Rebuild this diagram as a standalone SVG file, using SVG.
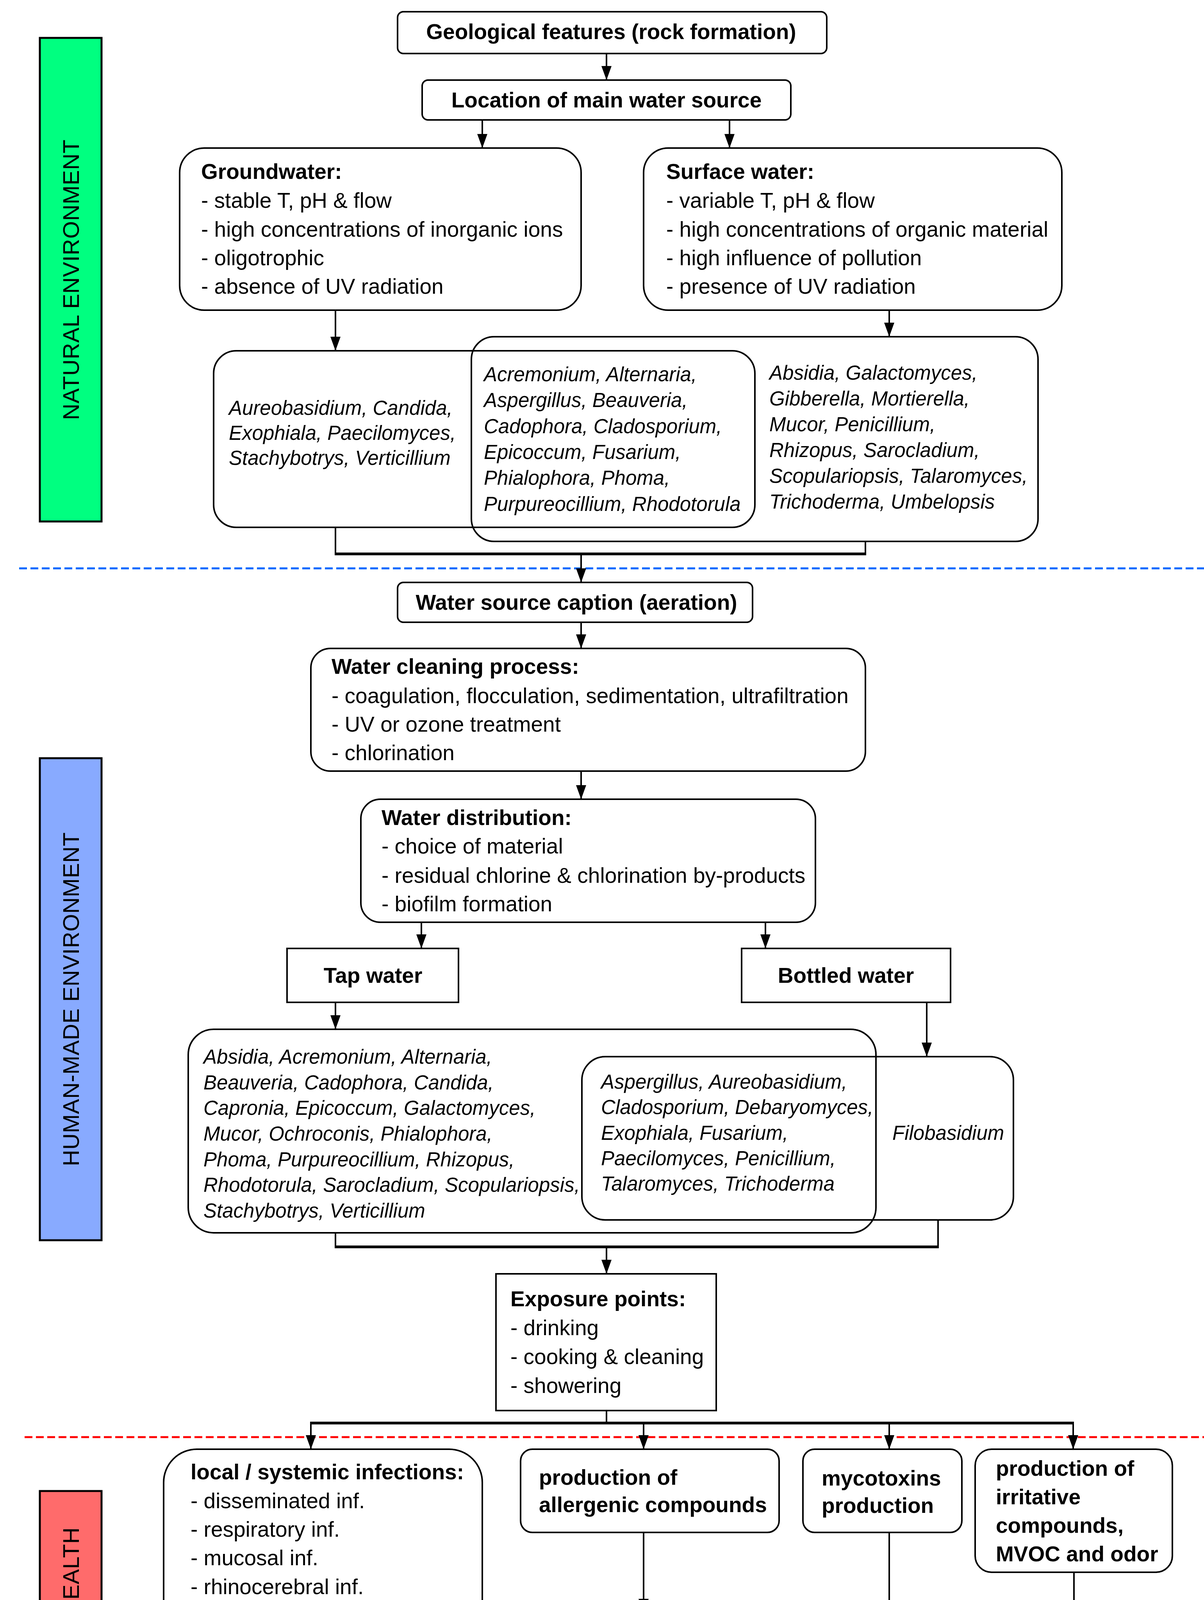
<svg xmlns="http://www.w3.org/2000/svg" width="3083" height="4795" viewBox="0 0 3083 4795">
<defs>
<marker id="ah" markerUnits="userSpaceOnUse" markerWidth="36" markerHeight="26" viewBox="0 0 36 26" refX="36" refY="13" orient="auto"><path d="M0,0 L36,13 L0,26 Z" fill="#000"/></marker>
</defs>
<style>
.box{fill:none;stroke:#000;stroke-width:4}
text{font-family:"Liberation Sans",Arial,Helvetica,sans-serif;fill:#000}
.h{font-size:55px;font-weight:bold}
.t{font-size:55px}
.g{font-size:51px;font-style:italic}
.c{text-anchor:middle}
.ln{fill:none;stroke:#000;stroke-width:4}
.ar{fill:none;stroke:#000;stroke-width:4;marker-end:url(#ah)}
.thick{fill:none;stroke:#000;stroke-width:7}
.bar{stroke:#000;stroke-width:5}
.bt{font-size:58px;letter-spacing:0.5px;text-anchor:middle}
</style>
<rect width="3083" height="4795" fill="#fff"/>

<g id="side-bars">
<g id="natural-environment"><rect class="bar" x="102" y="97" width="158" height="1238" fill="#00FF80"/><text class="bt" transform="translate(202,716) rotate(-90)">NATURAL ENVIRONMENT</text></g>
<g id="human-made-environment"><rect class="bar" x="102" y="1941" width="158" height="1234" fill="#88AAFF"/><text class="bt" transform="translate(202,2558) rotate(-90)">HUMAN-MADE ENVIRONMENT</text></g>
<g id="effect-on-health"><rect class="bar" x="102" y="3817" width="158" height="763" fill="#FF6B6B"/><text class="bt" transform="translate(202,4198) rotate(-90)">EFFECT ON HEALTH</text></g>
</g>

<g id="separators">
<line x1="49" y1="1455" x2="3083" y2="1455" stroke="#0066FF" stroke-width="5" stroke-dasharray="20 9"/>
<line x1="63" y1="3679" x2="3083" y2="3679" stroke="#FF0000" stroke-width="5" stroke-dasharray="20 9"/>
</g>

<g id="geological">
<rect class="box" x="1018" y="30" width="1099" height="107" rx="15"/>
<text class="h c" x="1565" y="100">Geological features (rock formation)</text>
</g>
<g id="location">
<rect class="box" x="1081" y="205" width="944" height="102" rx="15"/>
<text class="h c" x="1553" y="275">Location of main water source</text>
</g>
<g id="groundwater">
<rect class="box" x="460" y="379" width="1028" height="415" rx="63"/>
<text class="h" x="515" y="458">Groundwater:</text>
<text class="t" x="515" y="532">- stable T, pH &amp; flow</text>
<text class="t" x="515" y="606">- high concentrations of inorganic ions</text>
<text class="t" x="515" y="679">- oligotrophic</text>
<text class="t" x="515" y="752">- absence of UV radiation</text>
</g>
<g id="surface-water">
<rect class="box" x="1648" y="379" width="1071" height="415" rx="63"/>
<text class="h" x="1706" y="458">Surface water:</text>
<text class="t" x="1706" y="532">- variable  T, pH &amp; flow</text>
<text class="t" x="1706" y="606">- high concentrations of organic material</text>
<text class="t" x="1706" y="679">- high influence of pollution</text>
<text class="t" x="1706" y="752">- presence of UV radiation</text>
</g>
<g id="groundwater-genera">
<rect class="box" x="547" y="898" width="1386" height="452" rx="58"/>
<text class="g" x="586" y="1062">Aureobasidium, Candida,</text>
<text class="g" x="586" y="1126">Exophiala, Paecilomyces,</text>
<text class="g" x="586" y="1190">Stachybotrys, Verticillium</text>
</g>
<g id="surface-genera">
<rect class="box" x="1207" y="862" width="1451" height="524" rx="58"/>
<text class="g" x="1970" y="972">Absidia, Galactomyces,</text>
<text class="g" x="1970" y="1038">Gibberella, Mortierella,</text>
<text class="g" x="1970" y="1104">Mucor, Penicillium,</text>
<text class="g" x="1970" y="1170">Rhizopus, Sarocladium,</text>
<text class="g" x="1970" y="1236">Scopulariopsis, Talaromyces,</text>
<text class="g" x="1970" y="1302">Trichoderma, Umbelopsis</text>
</g>
<g id="shared-natural-genera">
<text class="g" x="1239" y="976">Acremonium, Alternaria,</text>
<text class="g" x="1239" y="1042">Aspergillus, Beauveria,</text>
<text class="g" x="1239" y="1109">Cadophora, Cladosporium,</text>
<text class="g" x="1239" y="1175">Epicoccum, Fusarium,</text>
<text class="g" x="1239" y="1241">Phialophora, Phoma,</text>
<text class="g" x="1239" y="1308">Purpureocillium, Rhodotorula</text>
</g>

<g id="water-source-caption">
<rect class="box" x="1018" y="1491" width="909" height="102" rx="15"/>
<text class="h c" x="1476" y="1561">Water source caption (aeration)</text>
</g>
<g id="water-cleaning">
<rect class="box" x="796" y="1660" width="1420" height="314" rx="50"/>
<text class="h" x="849" y="1725">Water cleaning process:</text>
<text class="t" x="849" y="1800">- coagulation, flocculation, sedimentation, ultrafiltration</text>
<text class="t" x="849" y="1873">- UV or ozone treatment</text>
<text class="t" x="849" y="1946">- chlorination</text>
</g>
<g id="water-distribution">
<rect class="box" x="924" y="2046" width="1164" height="315" rx="50"/>
<text class="h" x="977" y="2112">Water distribution:</text>
<text class="t" x="977" y="2185">- choice of material</text>
<text class="t" x="977" y="2260">- residual chlorine &amp; chlorination  by-products</text>
<text class="t" x="977" y="2333">- biofilm formation</text>
</g>
<g id="tap-water">
<rect class="box" x="735" y="2428" width="439" height="138"/>
<text class="h c" x="955" y="2516">Tap water</text>
</g>
<g id="bottled-water">
<rect class="box" x="1899" y="2428" width="535" height="138"/>
<text class="h c" x="2166" y="2516">Bottled water</text>
</g>
<g id="tap-genera">
<rect class="box" x="482" y="2635" width="1761" height="521" rx="65"/>
<text class="g" x="521" y="2723">Absidia, Acremonium, Alternaria,</text>
<text class="g" x="521" y="2789">Beauveria, Cadophora, Candida,</text>
<text class="g" x="521" y="2854">Capronia, Epicoccum, Galactomyces,</text>
<text class="g" x="521" y="2920">Mucor, Ochroconis, Phialophora,</text>
<text class="g" x="521" y="2986">Phoma, Purpureocillium, Rhizopus,</text>
<text class="g" x="521" y="3051">Rhodotorula, Sarocladium, Scopulariopsis,</text>
<text class="g" x="521" y="3117">Stachybotrys, Verticillium</text>
</g>
<g id="bottled-genera">
<rect class="box" x="1490" y="2705" width="1105" height="418" rx="60"/>
<text class="g" x="2285" y="2918">Filobasidium</text>
</g>
<g id="shared-water-genera">
<text class="g" x="1539" y="2787">Aspergillus, Aureobasidium,</text>
<text class="g" x="1539" y="2852">Cladosporium, Debaryomyces,</text>
<text class="g" x="1539" y="2918">Exophiala, Fusarium,</text>
<text class="g" x="1539" y="2983">Paecilomyces, Penicillium,</text>
<text class="g" x="1539" y="3048">Talaromyces, Trichoderma</text>
</g>
<g id="exposure-points">
<rect class="box" x="1270" y="3261" width="564" height="350"/>
<text class="h" x="1307" y="3344">Exposure points:</text>
<text class="t" x="1307" y="3418">- drinking</text>
<text class="t" x="1307" y="3492">- cooking &amp; cleaning</text>
<text class="t" x="1307" y="3566">- showering</text>
</g>

<g id="infections">
<rect class="box" x="419" y="3710" width="816" height="700" rx="85"/>
<text class="h" x="488" y="3787">local / systemic infections:</text>
<text class="t" x="488" y="3861">- disseminated inf.</text>
<text class="t" x="488" y="3934">- respiratory inf.</text>
<text class="t" x="488" y="4007">- mucosal inf.</text>
<text class="t" x="488" y="4081">- rhinocerebral  inf.</text>
<text class="t" x="488" y="4154">- subcutaneous  inf.</text>
<text class="t" x="488" y="4227">- skin &amp; nail inf.</text>
<text class="t" x="488" y="4301">- ear inf.</text>
<text class="t" x="488" y="4374">- keratitis</text>
</g>
<g id="infection-genera">
<rect class="box" x="295" y="4479" width="1007" height="275" rx="40"/>
<text class="g" x="344" y="4566">Aspergillus, Candida, Exophiala,</text>
<text class="g" x="344" y="4631">Fusarium, Paecilomyces, Purpureocillium</text>
<text class="g" x="344" y="4696">Sarocladium, Mucor, Rhizopus</text>
</g>
<g id="allergenic">
<rect class="box" x="1333" y="3710" width="662" height="213" rx="30"/>
<text class="h" x="1380" y="3801">production of</text>
<text class="h" x="1380" y="3871">allergenic compounds</text>
</g>
<g id="allergenic-genera">
<rect class="box" x="1333" y="4129" width="723" height="625" rx="85"/>
<text class="g" x="1396" y="4227">Aspergillus, Alternaria,</text>
<text class="g" x="1396" y="4294">Aureobasidium, Beauveria,</text>
<text class="g" x="1396" y="4356">Botrytis, Candida,</text>
<text class="g" x="1396" y="4423">Chaetomium,Cladosporium,</text>
<text class="g" x="1396" y="4489">Epicoccum, Fusarium,</text>
<text class="g" x="1396" y="4555">Paecilomyces, Penicillium,</text>
<text class="g" x="1396" y="4622">Stachybotrys, Trichoderma,</text>
<text class="g" x="1396" y="4685">Mucor, Rhizopus</text>
</g>
<g id="mycotoxins">
<rect class="box" x="2056" y="3710" width="407" height="213" rx="30"/>
<text class="h" x="2104" y="3803">mycotoxins</text>
<text class="h" x="2104" y="3873">production</text>
</g>
<g id="mycotoxin-genera">
<rect class="box" x="2088" y="4301" width="409" height="453" rx="50"/>
<text class="g" x="2147" y="4381">Alternaria,</text>
<text class="g" x="2147" y="4447">Chaetomium,</text>
<text class="g" x="2147" y="4513">Fusarium,</text>
<text class="g" x="2147" y="4579">Penicillium,</text>
<text class="g" x="2147" y="4645">Stachybotrys,</text>
<text class="g" x="2147" y="4711">Trichoderma</text>
</g>
<g id="irritative">
<rect class="box" x="2497" y="3710" width="505" height="315" rx="42"/>
<text class="h" x="2550" y="3778">production of</text>
<text class="h" x="2550" y="3851">irritative</text>
<text class="h" x="2550" y="3924">compounds,</text>
<text class="h" x="2550" y="3997">MVOC and odor</text>
</g>
<g id="irritative-genera">
<rect class="box" x="2560" y="4479" width="409" height="275" rx="42"/>
<text class="g" x="2615" y="4569">Aspergillus,</text>
<text class="g" x="2615" y="4632">Penicillium,</text>
<text class="g" x="2615" y="4695">Trichoderma</text>
</g>

<g id="connectors">
<line class="ar" x1="1553" y1="137" x2="1553" y2="205"/>
<line class="ar" x1="1235" y1="307" x2="1235" y2="379"/>
<line class="ar" x1="1868" y1="307" x2="1868" y2="379"/>
<line class="ar" x1="859" y1="794" x2="859" y2="898"/>
<line class="ar" x1="2277" y1="794" x2="2277" y2="862"/>
<polyline class="ln" points="859,1350 859,1418"/>
<polyline class="ln" points="2216,1386 2216,1418"/>
<line class="thick" x1="857" y1="1418" x2="2218" y2="1418"/>
<line class="ar" x1="1488" y1="1418" x2="1488" y2="1491"/>
<line class="ar" x1="1488" y1="1593" x2="1488" y2="1660"/>
<line class="ar" x1="1488" y1="1974" x2="1488" y2="2046"/>
<line class="ar" x1="1079" y1="2361" x2="1079" y2="2428"/>
<line class="ar" x1="1960" y1="2361" x2="1960" y2="2428"/>
<line class="ar" x1="859" y1="2566" x2="859" y2="2635"/>
<line class="ar" x1="2373" y1="2566" x2="2373" y2="2705"/>
<polyline class="ln" points="859,3156 859,3192"/>
<polyline class="ln" points="2402,3123 2402,3192"/>
<line class="thick" x1="857" y1="3192" x2="2404" y2="3192"/>
<line class="ar" x1="1553" y1="3192" x2="1553" y2="3261"/>
<line class="ln" x1="1553" y1="3611" x2="1553" y2="3643"/>
<line class="thick" x1="794" y1="3643" x2="2750" y2="3643"/>
<line class="ar" x1="796" y1="3643" x2="796" y2="3710"/>
<line class="ar" x1="1648" y1="3643" x2="1648" y2="3710"/>
<line class="ar" x1="2277" y1="3643" x2="2277" y2="3710"/>
<line class="ar" x1="2748" y1="3643" x2="2748" y2="3710"/>
<line class="ar" x1="796" y1="4410" x2="796" y2="4479"/>
<line class="ar" x1="1648" y1="3923" x2="1648" y2="4129"/>
<line class="ar" x1="2277" y1="3923" x2="2277" y2="4301"/>
<line class="ar" x1="2750" y1="4025" x2="2750" y2="4479"/>
</g>
</svg>
